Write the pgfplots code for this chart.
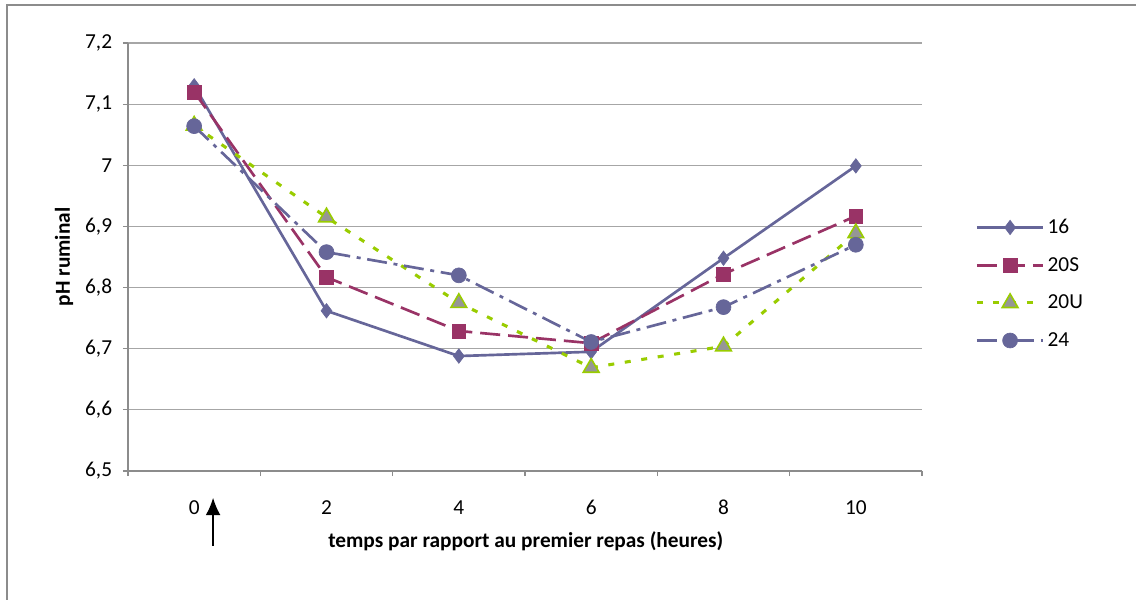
\documentclass[border=0pt]{standalone}
\usepackage{pgfplots}
\pgfplotsset{compat=1.18}
\usetikzlibrary{arrows.meta}
\usepackage{fontspec}
\setmainfont{Carlito}
\definecolor{cblue}{HTML}{666699}
\definecolor{cred}{HTML}{993366}
\definecolor{cgreen}{HTML}{99CC00}
\definecolor{cgray}{HTML}{969696}
\definecolor{gridc}{HTML}{A6A6A6}
\definecolor{axc}{HTML}{8C8C8C}
\begin{document}
\begin{tikzpicture}
\path[use as bounding box] (-96pt,-96.75pt) rectangle (756pt,353.25pt);
\draw[axc, line width=1.2pt] (-90.75pt,-96.75pt) -- (-90.75pt,349.5pt) -- (756pt,349.5pt);
\begin{axis}[
  at={(0pt,0pt)}, anchor=south west,
  scale only axis, width=595.5pt, height=321pt,
  clip=false,
  xmin=-0.5, xmax=5.5, ymin=6.5, ymax=7.2,
  xtick={0,1,2,3,4,5}, xticklabels={0,2,4,6,8,10},
  minor xtick={-0.5,0.5,1.5,2.5,3.5,4.5,5.5},
  ytick={6.5,6.6,6.7,6.8,6.9,7.0,7.1,7.2},
  yticklabels={{6,5},{6,6},{6,7},{6,8},{6,9},{7},{7,1},{7,2}},
  axis x line*=bottom, axis y line*=left,
  axis line style={-, draw=axc, line width=0.8pt},
  tick align=outside,
  major x tick style={draw=none},
  minor x tick style={draw=axc, line width=0.8pt},
  major y tick style={draw=axc, line width=0.8pt},
  major tick length=3.75pt, minor tick length=3.75pt,
  ymajorgrids, grid style={gridc, line width=0.9pt},
  tick label style={font=\fontsize{16}{19}\selectfont},
  xticklabel style={anchor=center, inner sep=0pt, yshift=-23.5pt},
  yticklabel style={anchor=east, inner sep=0pt, xshift=-8pt},
  xlabel={\textbf{temps par rapport au premier repas (heures)}},
  xlabel style={at={(axis description cs:0.501,-0.1636)}, anchor=center, font=\fontsize{16}{19}\selectfont},
  ylabel={\textbf{pH ruminal}},
  ylabel style={at={(axis description cs:-0.0806,0.5)}, anchor=center, font=\fontsize{16}{19}\selectfont},
  legend style={draw=none, fill=none, at={(rel axis cs:1.0667,0.595)}, anchor=north west,
    font=\fontsize{16}{19}\selectfont, row sep=12.3pt, inner sep=0pt,
    cells={anchor=west}},
  legend image code/.code={\draw[mark repeat=2,mark phase=2] plot coordinates {(0pt,0pt) (25pt,0pt) (50pt,0pt)};},
  every axis plot/.append style={line width=2pt},
]
\addplot[cblue, solid, mark=diamond*, mark size=5.4pt, mark options={solid, fill=cblue, draw=cblue, line width=0.5pt}]
  coordinates {(0,7.130) (1,6.762) (2,6.688) (3,6.695) (4,6.848) (5,6.999)};
\addlegendentry{16}
\addplot[cred, dash pattern=on 15pt off 6pt, mark=square*, mark size=5.2pt, mark options={solid, fill=cred, draw=cred, line width=0.5pt}]
  coordinates {(0,7.120) (1,6.817) (2,6.729) (3,6.709) (4,6.822) (5,6.917)};
\addlegendentry{20S}
\addplot[cgreen, line width=2.3pt, dash pattern=on 4.5pt off 8pt, mark=triangle*, mark size=6.8pt, mark options={solid, fill=cgray, draw=cgreen, line width=1.2pt}]
  coordinates {(0,7.065) (1,6.915) (2,6.775) (3,6.669) (4,6.704) (5,6.889)};
\addlegendentry{20U}
\addplot[cblue, dash pattern=on 15pt off 5pt on 3pt off 5pt, mark=*, mark size=5.6pt, mark options={solid, fill=cblue, draw=cblue, line width=0.5pt}]
  coordinates {(0,7.064) (1,6.858) (2,6.820) (3,6.711) (4,6.768) (5,6.870)};
\addlegendentry{24}
\draw[black, line width=1.2pt, -{Latex[length=13pt,width=11pt]}] (axis cs:0.143,6.5) ++(0pt,-56pt) -- ++(0pt,36pt);
\end{axis}
\end{tikzpicture}
\end{document}
